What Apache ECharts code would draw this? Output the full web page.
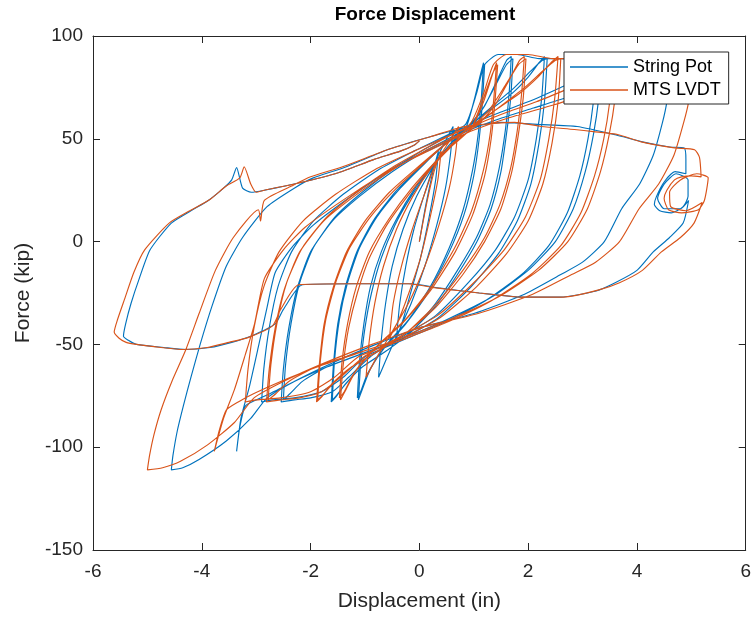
<!DOCTYPE html>
<html><head><meta charset="utf-8">
<script src="https://cdn.jsdelivr.net/npm/echarts/dist/echarts.min.js"></script>
<style>html,body{margin:0;padding:0;background:#fff}#c{width:754px;height:620px}</style>
</head><body><div id="c"></div>
<script>
const seriesNames = ['String Pot', 'MTS LVDT'];
const seriesColors = ['#0072BD', '#D95319'];
const xRange = [-6, 6, 2];
const yRange = [-150, 100, 50];

const stringPot = [
[0,0],[0.12,18],[0.25,34],[0.35,44],[0.3,30],[0.18,12],[0.02,-8],[-0.15,-24],[-0.3,-38],[-0.42,-47],
[-0.36,-30],[-0.25,-12],[-0.1,6],[0.08,22],[0.28,38],[0.5,50],[0.62,56],
[0.57,42],[0.48,26],[0.32,8],[0.1,-12],[-0.15,-30],[-0.42,-46],[-0.62,-58],[-0.75,-66],
[-0.7,-48],[-0.62,-30],[-0.5,-12],[-0.3,6],[-0.05,22],[0.25,36],[0.55,47],[0.85,55],[1.0,68],[1.12,81],[1.18,87],
[1.14,70],[1.08,52],[0.98,35],[0.8,15],[0.55,-3],[0.2,-22],[-0.2,-38],[-0.6,-50],[-0.9,-62],[-1.05,-72],[-1.12,-77],
[-1.08,-60],[-1.0,-42],[-0.88,-25],[-0.7,-8],[-0.45,8],[-0.15,22],[0.2,35],[0.55,46],[0.85,55],[1.02,70],[1.14,82],[1.2,86],
[1.16,68],[1.1,50],[1.0,32],[0.82,13],[0.55,-5],[0.18,-24],[-0.25,-40],[-0.65,-52],[-0.95,-64],[-1.08,-73],[-1.14,-76],
[-1.1,-58],[-1.02,-40],[-0.9,-22],[-0.7,-5],[-0.42,11],[-0.08,26],[0.3,39],[0.65,50],[0.95,57],[1.2,66],[1.42,78],[1.6,88],[1.69,90],
[1.65,72],[1.58,54],[1.47,36],[1.3,18],[1.05,2],[0.7,-14],[0.3,-30],[-0.15,-44],[-0.6,-53],[-1.05,-61],[-1.35,-69],[-1.52,-75],[-1.62,-78],
[-1.58,-60],[-1.5,-40],[-1.36,-22],[-1.15,-5],[-0.85,10],[-0.45,24],[0,36],[0.45,47],[0.85,55],[1.15,64],[1.4,76],[1.6,86],[1.72,89],
[1.68,70],[1.6,52],[1.5,34],[1.32,16],[1.06,0],[0.7,-16],[0.28,-32],[-0.2,-45],[-0.65,-54],[-1.1,-62],[-1.38,-70],[-1.53,-75],[-1.6,-77],
[-1.56,-58],[-1.47,-38],[-1.32,-20],[-1.1,-3],[-0.78,12],[-0.35,26],[0.1,38],[0.5,48],[0.9,56],[1.3,64],[1.7,72],[2.0,80],[2.2,87],[2.3,90],
[2.25,70],[2.15,50],[2.0,30],[1.75,12],[1.4,-4],[0.9,-20],[0.3,-36],[-0.3,-46],[-0.9,-56],[-1.3,-66],[-1.6,-73],[-2.0,-76],[-2.3,-77],[-2.54,-78],
[-2.5,-62],[-2.4,-42],[-2.25,-23],[-2.0,-5],[-1.6,10],[-1.1,22],[-0.5,34],[0.1,44],[0.6,51],[0.95,57],[1.35,66],[1.75,75],[2.05,83],[2.25,88],[2.35,89],
[2.3,68],[2.2,48],[2.05,28],[1.8,10],[1.45,-6],[0.95,-22],[0.35,-37],[-0.3,-47],[-1.0,-54],[-1.7,-61],[-2.15,-68],[-2.38,-74],[-2.5,-77],
[-2.46,-60],[-2.36,-40],[-2.2,-20],[-1.95,-3],[-1.55,12],[-1.05,24],[-0.45,36],[0.1,45],[0.55,52],[0.95,57],[1.5,63],[2.0,68],[2.6,75],[3.0,80],[3.25,85],
[3.2,68],[3.1,50],[2.95,32],[2.72,14],[2.38,-2],[1.88,-16],[1.2,-29],[0.4,-40],[-0.4,-49],[-1.0,-56],[-1.4,-66],[-1.8,-73],[-2.3,-76],[-2.7,-77],[-2.9,-78],
[-2.86,-62],[-2.76,-42],[-2.6,-22],[-2.35,-5],[-1.95,10],[-1.4,23],[-0.75,35],[-0.1,44],[0.45,51],[0.85,57],[1.05,72],[1.2,86],[1.45,91],[1.8,91],[2.2,89],[2.6,89],[3.0,88],[3.35,87],
[3.3,70],[3.2,52],[3.05,34],[2.83,16],[2.5,0],[2.0,-14],[1.33,-27],[0.5,-38],[-0.3,-47],[-1.0,-54],[-1.7,-61],[-2.3,-68],[-2.75,-74],[-3.0,-77],[-3.2,-80],[-3.3,-90],[-3.36,-102],
[-3.28,-86],[-3.12,-70],[-2.95,-50],[-2.8,-32],[-2.65,-15],[-2.35,-3],[-1.95,8],[-1.2,23],[-0.4,37],[0.3,46],[0.9,54],[1.5,60],[2.1,65],[2.7,70],[3.3,74],[3.9,78],[4.3,80],[4.6,81],
[4.55,68],[4.47,58],[4.3,42],[4.05,28],[3.72,16],[3.4,0],[3.0,-10],[2.6,-16],[1.9,-26],[1.0,-35],[0.0,-42],[-0.8,-50],[-1.6,-59],[-2.3,-68],[-2.8,-76],[-3.1,-86],[-3.55,-97],[-4.05,-106],[-4.35,-110],[-4.56,-111],
[-4.53,-104],[-4.45,-92],[-4.34,-80],[-4.2,-66],[-4.03,-50],[-3.82,-32],[-3.55,-12],[-3.25,2],[-2.8,17],[-2.3,26],[-1.95,31],[-1.38,36],[-0.55,45],[0.2,51],[0.8,55],
[1.5,58],[2.2,57],[2.9,56],[3.6,52],[4.1,48.5],[4.6,46],[4.87,45.5],[4.9,40],[4.9,33],
[4.7,34],[4.5,29],[4.36,22],[4.32,18],[4.42,15],[4.63,14],[4.85,17],[4.94,22],[4.94,30],[4.72,33],[4.5,28],[4.38,21],[4.5,16],[4.8,16],[4.95,20],
[4.85,9],[4.6,2],[4.3,-5],[4.0,-14],[3.6,-20],[3.25,-24],[2.6,-27],[1.88,-27],[1.1,-25],[0.35,-22.5],[-0.15,-20.5],[-1.2,-20.5],[-2.15,-21],[-2.5,-33],[-2.65,-40],[-3.1,-46],[-3.45,-49],[-3.85,-51.5],[-4.3,-52.5],[-4.7,-51.5],[-5.2,-50],[-5.35,-48],[-5.44,-46],
[-5.4,-40],[-5.3,-30],[-5.15,-18],[-4.95,-4],[-4.56,9],[-4.2,15],[-3.88,20],[-3.6,26],[-3.45,30],[-3.36,36],[-3.25,26],[-3.09,24],[-2.85,25],[-2.22,28.5],[-1.49,33.5],[-0.83,40],[-0.35,44],[-0.09,47],[0,49]
];

const mtsLvdt = [
[0,0],[0.13,18],[0.27,34],[0.4,44],[0.34,30],[0.2,12],[0.02,-8],[-0.18,-24],[-0.38,-38],[-0.55,-47],
[-0.48,-30],[-0.33,-12],[-0.13,6],[0.08,22],[0.3,38],[0.58,50],[0.72,56],
[0.66,42],[0.55,26],[0.36,8],[0.1,-12],[-0.2,-30],[-0.55,-46],[-0.82,-58],[-0.98,-66],
[-0.92,-48],[-0.82,-30],[-0.66,-12],[-0.42,6],[-0.12,22],[0.22,36],[0.58,47],[0.95,55],[1.18,68],[1.34,81],[1.42,87],
[1.37,70],[1.3,52],[1.18,35],[0.96,15],[0.65,-3],[0.22,-22],[-0.26,-38],[-0.75,-50],[-1.15,-62],[-1.35,-72],[-1.45,-77],
[-1.4,-60],[-1.3,-42],[-1.14,-25],[-0.92,-8],[-0.6,8],[-0.22,22],[0.18,35],[0.58,46],[0.95,55],[1.18,70],[1.35,82],[1.44,86],
[1.39,68],[1.32,50],[1.2,32],[0.98,13],[0.66,-5],[0.2,-24],[-0.32,-40],[-0.82,-52],[-1.2,-64],[-1.38,-73],[-1.47,-76],
[-1.42,-58],[-1.32,-40],[-1.16,-22],[-0.92,-5],[-0.56,11],[-0.14,26],[0.3,39],[0.72,50],[1.08,57],[1.38,66],[1.64,78],[1.84,88],[1.93,90],
[1.88,72],[1.8,54],[1.68,36],[1.48,18],[1.2,2],[0.8,-14],[0.32,-30],[-0.22,-44],[-0.75,-53],[-1.25,-61],[-1.6,-69],[-1.78,-75],[-1.89,-78],
[-1.84,-60],[-1.75,-40],[-1.58,-22],[-1.34,-5],[-1.0,10],[-0.55,24],[-0.04,36],[0.46,47],[0.92,55],[1.28,64],[1.58,76],[1.82,86],[1.96,89],
[1.91,70],[1.82,52],[1.7,34],[1.5,16],[1.2,0],[0.8,-16],[0.3,-32],[-0.27,-45],[-0.8,-54],[-1.3,-62],[-1.62,-70],[-1.79,-75],[-1.87,-77],
[-1.82,-58],[-1.72,-38],[-1.54,-20],[-1.28,-3],[-0.9,12],[-0.42,26],[0.08,38],[0.52,48],[0.96,56],[1.4,64],[1.84,72],[2.18,80],[2.42,87],[2.55,90],
[2.49,70],[2.38,50],[2.22,30],[1.95,12],[1.56,-4],[1.0,-20],[0.33,-36],[-0.35,-46],[-1.02,-56],[-1.45,-66],[-1.8,-73],[-2.2,-76],[-2.55,-77],[-2.81,-78],
[-2.76,-62],[-2.65,-42],[-2.48,-23],[-2.2,-5],[-1.76,10],[-1.2,22],[-0.55,34],[0.1,44],[0.65,51],[1.05,57],[1.5,66],[1.94,75],[2.27,83],[2.49,88],[2.6,89],
[2.55,68],[2.44,48],[2.27,28],[2.0,10],[1.6,-6],[1.05,-22],[0.38,-37],[-0.34,-47],[-1.12,-54],[-1.9,-61],[-2.4,-68],[-2.64,-74],[-2.78,-77],
[-2.73,-60],[-2.62,-40],[-2.44,-20],[-2.15,-3],[-1.7,12],[-1.15,24],[-0.5,36],[0.1,45],[0.6,52],[1.05,57],[1.62,63],[2.15,68],[2.8,75],[3.25,80],[3.55,85],
[3.5,68],[3.39,50],[3.22,32],[2.97,14],[2.6,-2],[2.05,-16],[1.31,-29],[0.44,-40],[-0.44,-49],[-1.12,-56],[-1.56,-66],[-2.0,-73],[-2.55,-76],[-3.0,-77],[-3.2,-78],
[-3.15,-62],[-3.04,-42],[-2.86,-22],[-2.58,-5],[-2.14,10],[-1.54,23],[-0.82,35],[-0.1,44],[0.5,51],[0.93,57],[1.18,72],[1.36,86],[1.6,91],[2.0,91],[2.45,89],[2.9,89],[3.3,88],[3.65,87],
[3.6,70],[3.49,52],[3.33,34],[3.09,16],[2.73,0],[2.19,-14],[1.45,-27],[0.55,-38],[-0.33,-47],[-1.1,-54],[-1.88,-61],[-2.55,-68],[-3.05,-74],[-3.33,-78],[-3.55,-82],[-3.68,-92],[-3.77,-102],
[-3.6,-86],[-3.4,-72],[-3.2,-55],[-3.03,-40],[-2.85,-18],[-2.5,-4],[-2.1,7],[-1.3,22],[-0.45,36],[0.32,46],[0.98,54],[1.62,60],[2.28,65],[2.93,70],[3.6,74],[4.25,78],[4.7,80],[5.0,81],
[4.95,68],[4.86,58],[4.68,42],[4.4,28],[4.04,16],[3.68,0],[3.24,-10],[2.8,-16],[2.05,-26],[1.08,-35],[0.0,-42],[-0.87,-50],[-1.74,-59],[-2.5,-68],[-3.04,-76],[-3.4,-88],[-3.9,-99],[-4.4,-107],[-4.72,-110],[-5.0,-111],
[-4.96,-104],[-4.88,-94],[-4.75,-82],[-4.55,-68],[-4.3,-53],[-4.05,-35],[-3.75,-14],[-3.42,2],[-2.96,15.5],[-2.92,10],[-2.85,20],[-2.35,27],[-2.0,31.5],[-1.4,36.5],[-0.55,45],[0.2,51],[0.83,56],
[1.75,58],[2.24,56],[2.85,54.5],[3.2,53.5],[3.66,52],[4.08,48.5],[4.69,45.6],[5.06,44.7],[5.15,41],[5.18,31.5],
[5.0,32],[4.82,31.5],[4.69,30],[4.55,25],[4.5,21],[4.58,15.5],[4.82,14],[5.13,15.5],[5.24,20],[5.31,31],[5.1,33],[4.8,30],[4.6,24],[4.62,17],[4.9,15],[5.2,19],
[5.05,9],[4.8,2],[4.45,-5],[4.1,-14],[3.68,-20],[3.3,-23.5],[2.65,-27],[1.9,-27],[1.1,-25],[0.3,-22.5],[-0.2,-20.5],[-1.25,-20.5],[-2.22,-21],[-2.55,-33],[-2.7,-41],[-3.14,-46.6],[-3.5,-49],[-3.9,-51.5],[-4.35,-52.5],[-4.75,-51.5],[-5.2,-50],[-5.39,-49],[-5.52,-47],[-5.61,-44],
[-5.55,-38],[-5.42,-28],[-5.25,-15],[-5.05,-4],[-4.6,9],[-4.22,15],[-3.85,20.5],[-3.55,27],[-3.3,31],[-3.22,36.4],[-3.1,28],[-3.0,24],[-2.85,25],[-2.22,28.5],[-1.49,33.5],[-0.83,40],[-0.35,44],[-0.09,47],[0,49]
];

const FONT = '"Liberation Sans", Arial, Helvetica, sans-serif';
const AX = '#262626';
const chart = echarts.init(document.getElementById('c'), null, {renderer: 'canvas'});

function xAxisCfg(pos, labels) {
  return {
    type: 'value', position: pos, min: xRange[0], max: xRange[1], interval: xRange[2],
    name: labels ? 'Displacement (in)' : '', nameLocation: 'middle', nameGap: 41,
    nameTextStyle: {fontFamily: FONT, fontSize: 21, color: AX},
    axisLine: {show: true, onZero: false, lineStyle: {color: AX, width: 1}},
    axisTick: {show: true, inside: true, length: 7, lineStyle: {color: AX, width: 1}},
    axisLabel: {show: labels, fontFamily: FONT, fontSize: 19, color: AX, margin: 12, showMinLabel: true, showMaxLabel: true},
    splitLine: {show: false}
  };
}
function yAxisCfg(pos, labels) {
  return {
    type: 'value', position: pos, min: yRange[0], max: yRange[1], interval: yRange[2],
    name: labels ? 'Force (kip)' : '', nameLocation: 'middle', nameGap: 58,
    nameTextStyle: {fontFamily: FONT, fontSize: 21, color: AX},
    axisLine: {show: true, onZero: false, lineStyle: {color: AX, width: 1}},
    axisTick: {show: true, inside: true, length: 7, lineStyle: {color: AX, width: 1}},
    axisLabel: {show: labels, fontFamily: FONT, fontSize: 19, color: AX, margin: 10, showMinLabel: true, showMaxLabel: true},
    splitLine: {show: false}
  };
}

const dataSets = [stringPot, mtsLvdt];
chart.setOption({
  animation: false,
  backgroundColor: '#fff',
  title: {
    text: 'Force Displacement', left: 420, top: 0, textAlign: 'center',
    textStyle: {fontFamily: FONT, fontSize: 19, fontWeight: 'bold', color: '#000'}
  },
  grid: {left: 93, right: 8, top: 36, bottom: 70, containLabel: false},
  xAxis: [xAxisCfg('bottom', true), xAxisCfg('top', false)],
  yAxis: [yAxisCfg('left', true), yAxisCfg('right', false)],
  legend: {
    orient: 'vertical', left: 564, top: 52,
    data: seriesNames.map(n => ({name: n, icon: 'rect'})),
    itemWidth: 58, itemHeight: 1.6, itemGap: 5,
    padding: [6, 8, 5, 6],
    borderColor: AX, borderWidth: 1, borderRadius: 0, backgroundColor: '#fff',
    textStyle: {fontFamily: FONT, fontSize: 18, color: '#000'},
    selectedMode: false
  },
  series: seriesNames.map((n, i) => ({
    name: n, type: 'line', data: dataSets[i], xAxisIndex: 0, yAxisIndex: 0,
    showSymbol: false, symbol: 'none', smooth: 0.2, clip: true,
    lineStyle: {color: seriesColors[i], width: 1.15},
    itemStyle: {color: seriesColors[i]},
    emphasis: {disabled: true}
  }))
});
</script></body></html>
